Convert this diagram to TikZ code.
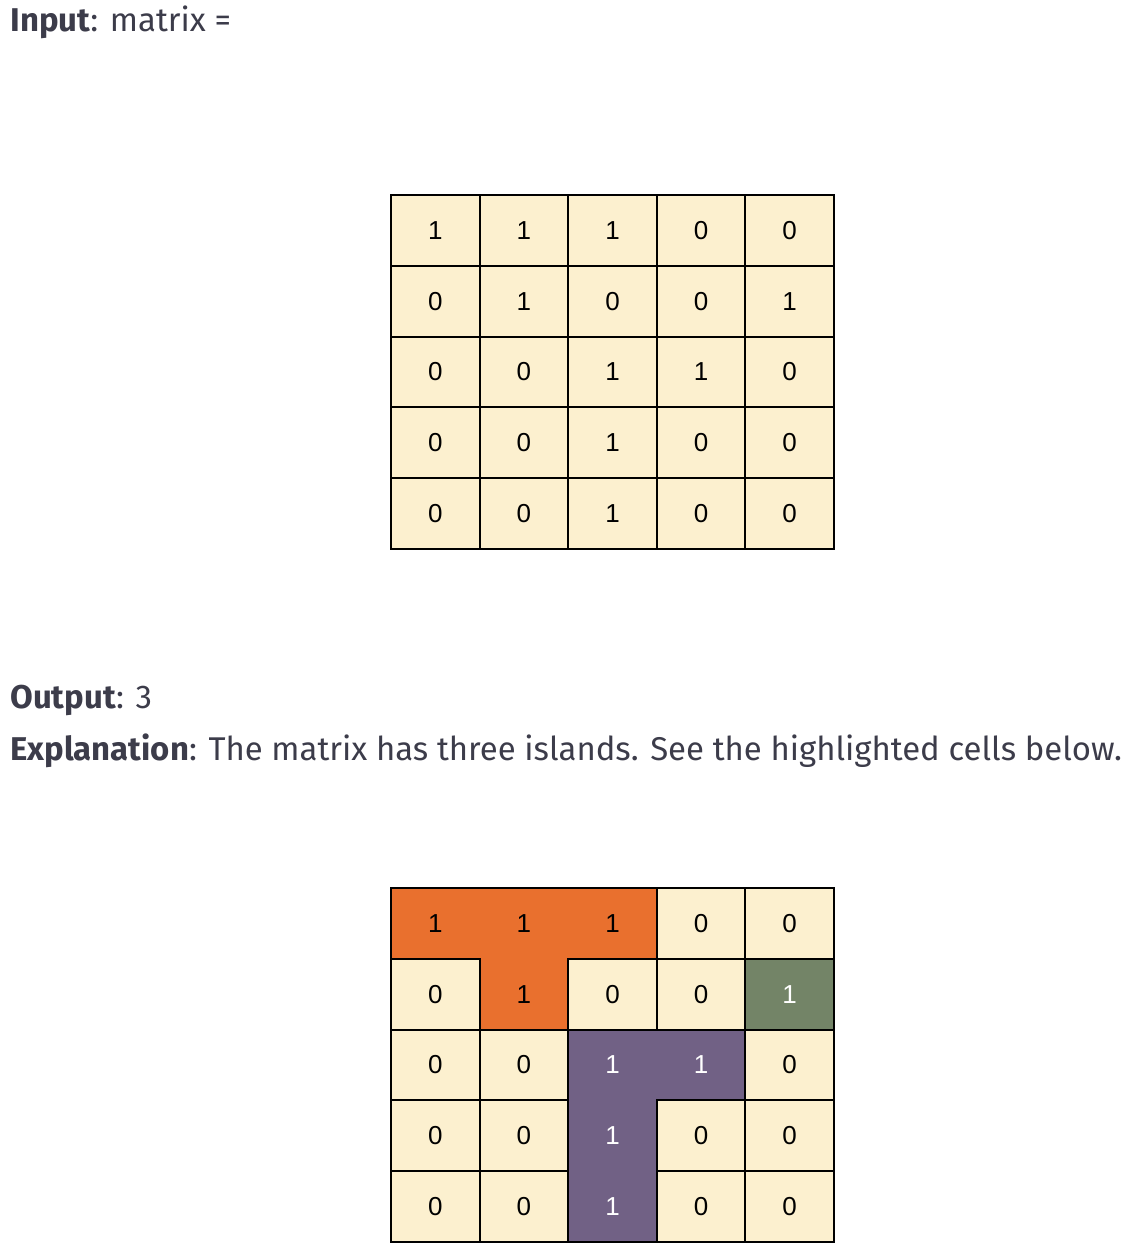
\documentclass[tikz,border=0pt]{standalone}
\usepackage{fontspec}
\setmainfont{Fira Sans}
\newfontfamily\cellfont{Liberation Sans}
\definecolor{headtext}{HTML}{3C3C4A}
\definecolor{cellbg}{HTML}{FCF0CF}
\definecolor{islandA}{HTML}{E9702E}
\definecolor{islandB}{HTML}{738467}
\definecolor{islandC}{HTML}{716185}
\tikzset{
  cell/.style={draw=black, line width=1pt, fill=cellbg, minimum width=44.3pt,
    minimum height=35.4pt, inner sep=0pt, outer sep=0pt,
    font=\cellfont\fontsize{13}{15}\selectfont},
  orangecell/.style={cell, draw=none, fill=islandA},
  greencell/.style={cell, draw=none, fill=islandB, text=white},
  purplecell/.style={cell, draw=none, fill=islandC, text=white},
  heading/.style={anchor=base west, inner sep=0pt, text=headtext,
    font=\fontsize{16.45}{19}\selectfont}
}
\begin{document}
\begin{tikzpicture}[x=0.5pt, y=-0.5pt]
  \useasboundingbox (0,0) rectangle (1147,1252);
  \node[heading] (input) at (10,32) {\textbf{Input}: matrix =};
  \node[heading] (output) at (10,708) {\textbf{Output}: 3};
  \node[heading] (explain) at (10,760)
    {\textbf{Explanation}: The matrix has three islands. See the highlighted cells below.};
  % input matrix
  \path[every node/.style=cell]
    (435.3,230.4) node (a00){1}
    (523.9,230.4) node (a01){1}
    (612.5,230.4) node (a02){1}
    (701.1,230.4) node (a03){0}
    (789.7,230.4) node (a04){0}
    (435.3,301.2) node (a10){0}
    (523.9,301.2) node (a11){1}
    (612.5,301.2) node (a12){0}
    (701.1,301.2) node (a13){0}
    (789.7,301.2) node (a14){1}
    (435.3,372.0) node (a20){0}
    (523.9,372.0) node (a21){0}
    (612.5,372.0) node (a22){1}
    (701.1,372.0) node (a23){1}
    (789.7,372.0) node (a24){0}
    (435.3,442.8) node (a30){0}
    (523.9,442.8) node (a31){0}
    (612.5,442.8) node (a32){1}
    (701.1,442.8) node (a33){0}
    (789.7,442.8) node (a34){0}
    (435.3,513.6) node (a40){0}
    (523.9,513.6) node (a41){0}
    (612.5,513.6) node (a42){1}
    (701.1,513.6) node (a43){0}
    (789.7,513.6) node (a44){0};
  % islands first, then the water cells on top
  \path
    (435.3,923.4) node[orangecell] (b00){1}
    (523.9,923.4) node[orangecell] (b01){1}
    (612.5,923.4) node[orangecell] (b02){1}
    (523.9,994.2) node[orangecell] (b11){1}
    (789.7,994.2) node[greencell] (b14){1}
    (612.5,1065.0) node[purplecell] (b22){1}
    (701.1,1065.0) node[purplecell] (b23){1}
    (612.5,1135.8) node[purplecell] (b32){1}
    (612.5,1206.6) node[purplecell] (b42){1};
  \path[every node/.style=cell]
    (701.1,923.4) node (b03){0}
    (789.7,923.4) node (b04){0}
    (435.3,994.2) node (b10){0}
    (612.5,994.2) node (b12){0}
    (701.1,994.2) node (b13){0}
    (435.3,1065.0) node (b20){0}
    (523.9,1065.0) node (b21){0}
    (789.7,1065.0) node (b24){0}
    (435.3,1135.8) node (b30){0}
    (523.9,1135.8) node (b31){0}
    (701.1,1135.8) node (b33){0}
    (789.7,1135.8) node (b34){0}
    (435.3,1206.6) node (b40){0}
    (523.9,1206.6) node (b41){0}
    (701.1,1206.6) node (b43){0}
    (789.7,1206.6) node (b44){0};
  \draw[line width=1pt] (b00.north west) rectangle (b44.south east);
\end{tikzpicture}
\end{document}
